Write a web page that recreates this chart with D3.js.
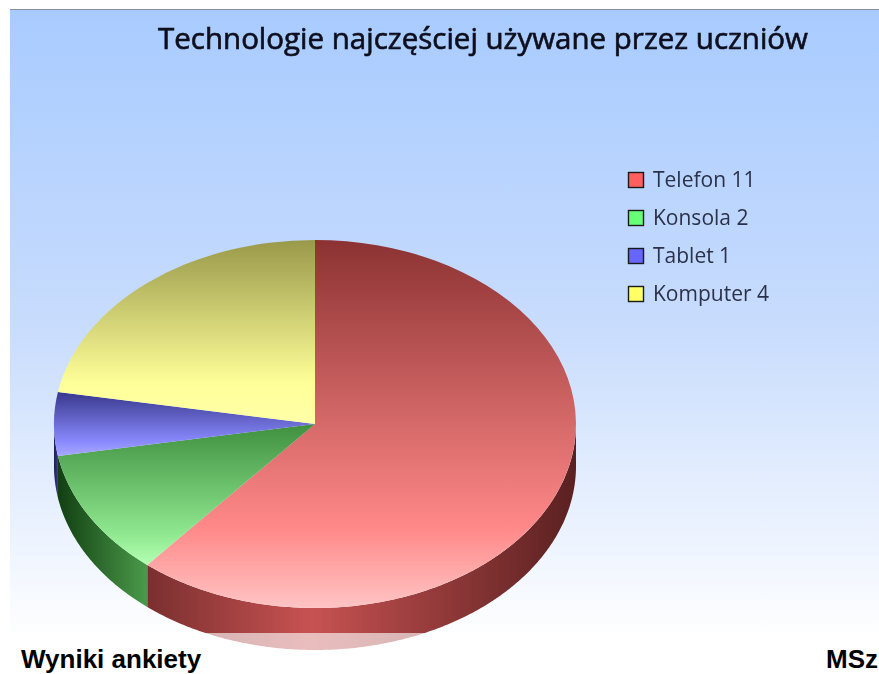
<!DOCTYPE html>
<html>
<head>
<meta charset="utf-8">
<script src="https://cdn.jsdelivr.net/npm/d3@7"></script>
<style>
  html, body { margin: 0; padding: 0; background: #fff; overflow: hidden; }
  text { font-family: "Open Sans", sans-serif; }
</style>
</head>
<body>
<div id="my_dataviz"></div>
<script>
// chart values
const categories = ["Telefon", "Konsola", "Tablet", "Komputer"];
const values = [11, 2, 1, 4];
const chartTitle = "Technologie najczęściej używane przez uczniów";
const footerLeft = "Wyniki ankiety";
const footerRight = "MSz";

// colours per slice
const baseColors = ["#ff5f5f", "#66ff77", "#6666ff", "#ffff66"];
const darkColors = ["#8c3232", "#3f8f3f", "#38388c", "#99994a"];
const midColors = ["#ff8888", "#8fe88f", "#8a8aff", "#ffff99"];
const lightColors = ["#ffc4c4", "#b4ffb4", "#a8a8ff", "#ffffa8"];
const sideDark = ["#7a2f2f", "#123f12", "#1c1c55", "#555520"];
const sideMid = ["#c85252", "#4a9a4a", "#3a3a99", "#a0a040"];

const width = 879, height = 674;
const pieCenter = {x: 315, y: 424}, rx = 261, ry = 184, depth = 42;

const svg = d3.select("#my_dataviz")
  .append("svg")
    .attr("width", width)
    .attr("height", height)
    .style("display", "block");

const defs = svg.append("defs");

// the reference is a slightly soft screenshot
defs.append("filter")
    .attr("id", "soft")
    .attr("x", "-5%").attr("y", "-20%")
    .attr("width", "110%").attr("height", "140%")
  .append("feGaussianBlur")
    .attr("stdDeviation", 0.45);

// page background
const bg = defs.append("linearGradient")
    .attr("id", "bg")
    .attr("x1", 0).attr("x2", 0).attr("y1", 0).attr("y2", 1);
bg.append("stop").attr("offset", "0%").attr("stop-color", "#a8cbff");
bg.append("stop").attr("offset", "50%").attr("stop-color", "#c8dcfd");
bg.append("stop").attr("offset", "100%").attr("stop-color", "#ffffff");

svg.append("rect")
    .attr("x", 10).attr("y", 10)
    .attr("width", width - 10).attr("height", 632)
    .attr("fill", "url(#bg)");
svg.append("line")
    .attr("x1", 10).attr("x2", width)
    .attr("y1", 9.5).attr("y2", 9.5)
    .attr("stroke", "#8a8f99");

// pie layout, starts at 12 o'clock and goes clockwise
const pie = d3.pie().sort(null).value(d => d);
const arcs = pie(values);

// one gradient per slice, top face is vertical and the rim horizontal
arcs.forEach(function (d, i) {
  const g = defs.append("linearGradient")
      .attr("id", "top" + i)
      .attr("x1", 0).attr("x2", 0).attr("y1", 0).attr("y2", 1);
  g.append("stop").attr("offset", "0%").attr("stop-color", darkColors[i]);
  g.append("stop").attr("offset", "78%").attr("stop-color", midColors[i]);
  g.append("stop").attr("offset", "100%").attr("stop-color", lightColors[i]);
});

const xEdge = a => pieCenter.x + rx * Math.sin(a);
const yEdge = a => pieCenter.y - ry * Math.cos(a);

const rim = d3.line().x(d => d[0]).y(d => d[1]);

// rim is only visible on the front half of the ellipse
const rimG = svg.append("g");
arcs.forEach(function (d, i) {
  const a0 = Math.max(d.startAngle, Math.PI / 2);
  const a1 = Math.min(d.endAngle, Math.PI * 1.5);
  if (a1 <= a0) return;

  const x0 = xEdge(a0), x1 = xEdge(a1);
  const g = defs.append("linearGradient")
      .attr("id", "side" + i)
      .attr("gradientUnits", "userSpaceOnUse")
      .attr("x1", Math.min(x0, x1)).attr("x2", Math.max(x0, x1))
      .attr("y1", 0).attr("y2", 0);
  if (i === 0) {
    g.append("stop").attr("offset", "0%").attr("stop-color", sideDark[i]);
    g.append("stop").attr("offset", "38%").attr("stop-color", sideMid[i]);
    g.append("stop").attr("offset", "100%").attr("stop-color", "#5a2020");
  } else {
    g.append("stop").attr("offset", "0%").attr("stop-color", sideDark[i]);
    g.append("stop").attr("offset", "100%").attr("stop-color", sideMid[i]);
  }

  const steps = d3.range(a0, a1, 0.01).concat([a1]);
  const pts = steps.map(a => [xEdge(a), yEdge(a)])
    .concat(steps.slice().reverse().map(a => [xEdge(a), yEdge(a) + depth]));
  rimG.append("path")
      .attr("d", rim(pts) + "Z")
      .attr("fill", "url(#side" + i + ")");
});

// top face
const arc = d3.arc().innerRadius(0).outerRadius(1);
svg.append("g")
    .attr("transform", `translate(${pieCenter.x}, ${pieCenter.y}) scale(${rx}, ${ry})`)
  .selectAll("path")
  .data(arcs)
  .join("path")
    .attr("d", arc)
    .attr("fill", (d, i) => "url(#top" + i + ")");

// footer band washes out the bottom of the rim
svg.append("rect")
    .attr("x", 10).attr("y", 633)
    .attr("width", width - 10).attr("height", 41)
    .attr("fill", "#fff")
    .attr("opacity", 0.62);

svg.append("text")
    .attr("x", 158)
    .attr("y", 49)
    .attr("fill", "#0c0f1c")
    .attr("stroke", "#0c0f1c")
    .attr("stroke-width", 0.65)
    .attr("filter", "url(#soft)")
    .style("font-size", "29.5px")
    .text(chartTitle);

// legend
const y = d3.scaleBand()
  .domain(categories)
  .range([161, 313]);

const legend = svg.selectAll("legendrow")
  .data(categories)
  .join("g")
    .attr("transform", d => `translate(0, ${y(d) + y.bandwidth() / 2})`);

legend.append("rect")
    .attr("x", 628.5).attr("y", -7.5)
    .attr("width", 15).attr("height", 15)
    .attr("fill", (d, i) => baseColors[i])
    .attr("stroke", "#1a1a1a")
    .attr("stroke-width", 1.4);

legend.append("text")
    .attr("x", 653)
    .attr("y", 0)
    .attr("dy", "0.35em")
    .attr("fill", "#2c3148")
    .attr("filter", "url(#soft)")
    .style("font-size", "21px")
    .text((d, i) => d + " " + values[i]);

// footer labels
svg.append("text")
    .attr("x", 21).attr("y", 668)
    .attr("fill", "#000")
    .style("font-family", "'Liberation Sans', Arial, sans-serif")
    .style("font-weight", "bold")
    .style("font-size", "26px")
    .text(footerLeft);

svg.append("text")
    .attr("x", 878).attr("y", 668)
    .attr("text-anchor", "end")
    .attr("fill", "#000")
    .style("font-family", "'Liberation Sans', Arial, sans-serif")
    .style("font-weight", "bold")
    .style("font-size", "26px")
    .text(footerRight);
</script>
</body>
</html>
